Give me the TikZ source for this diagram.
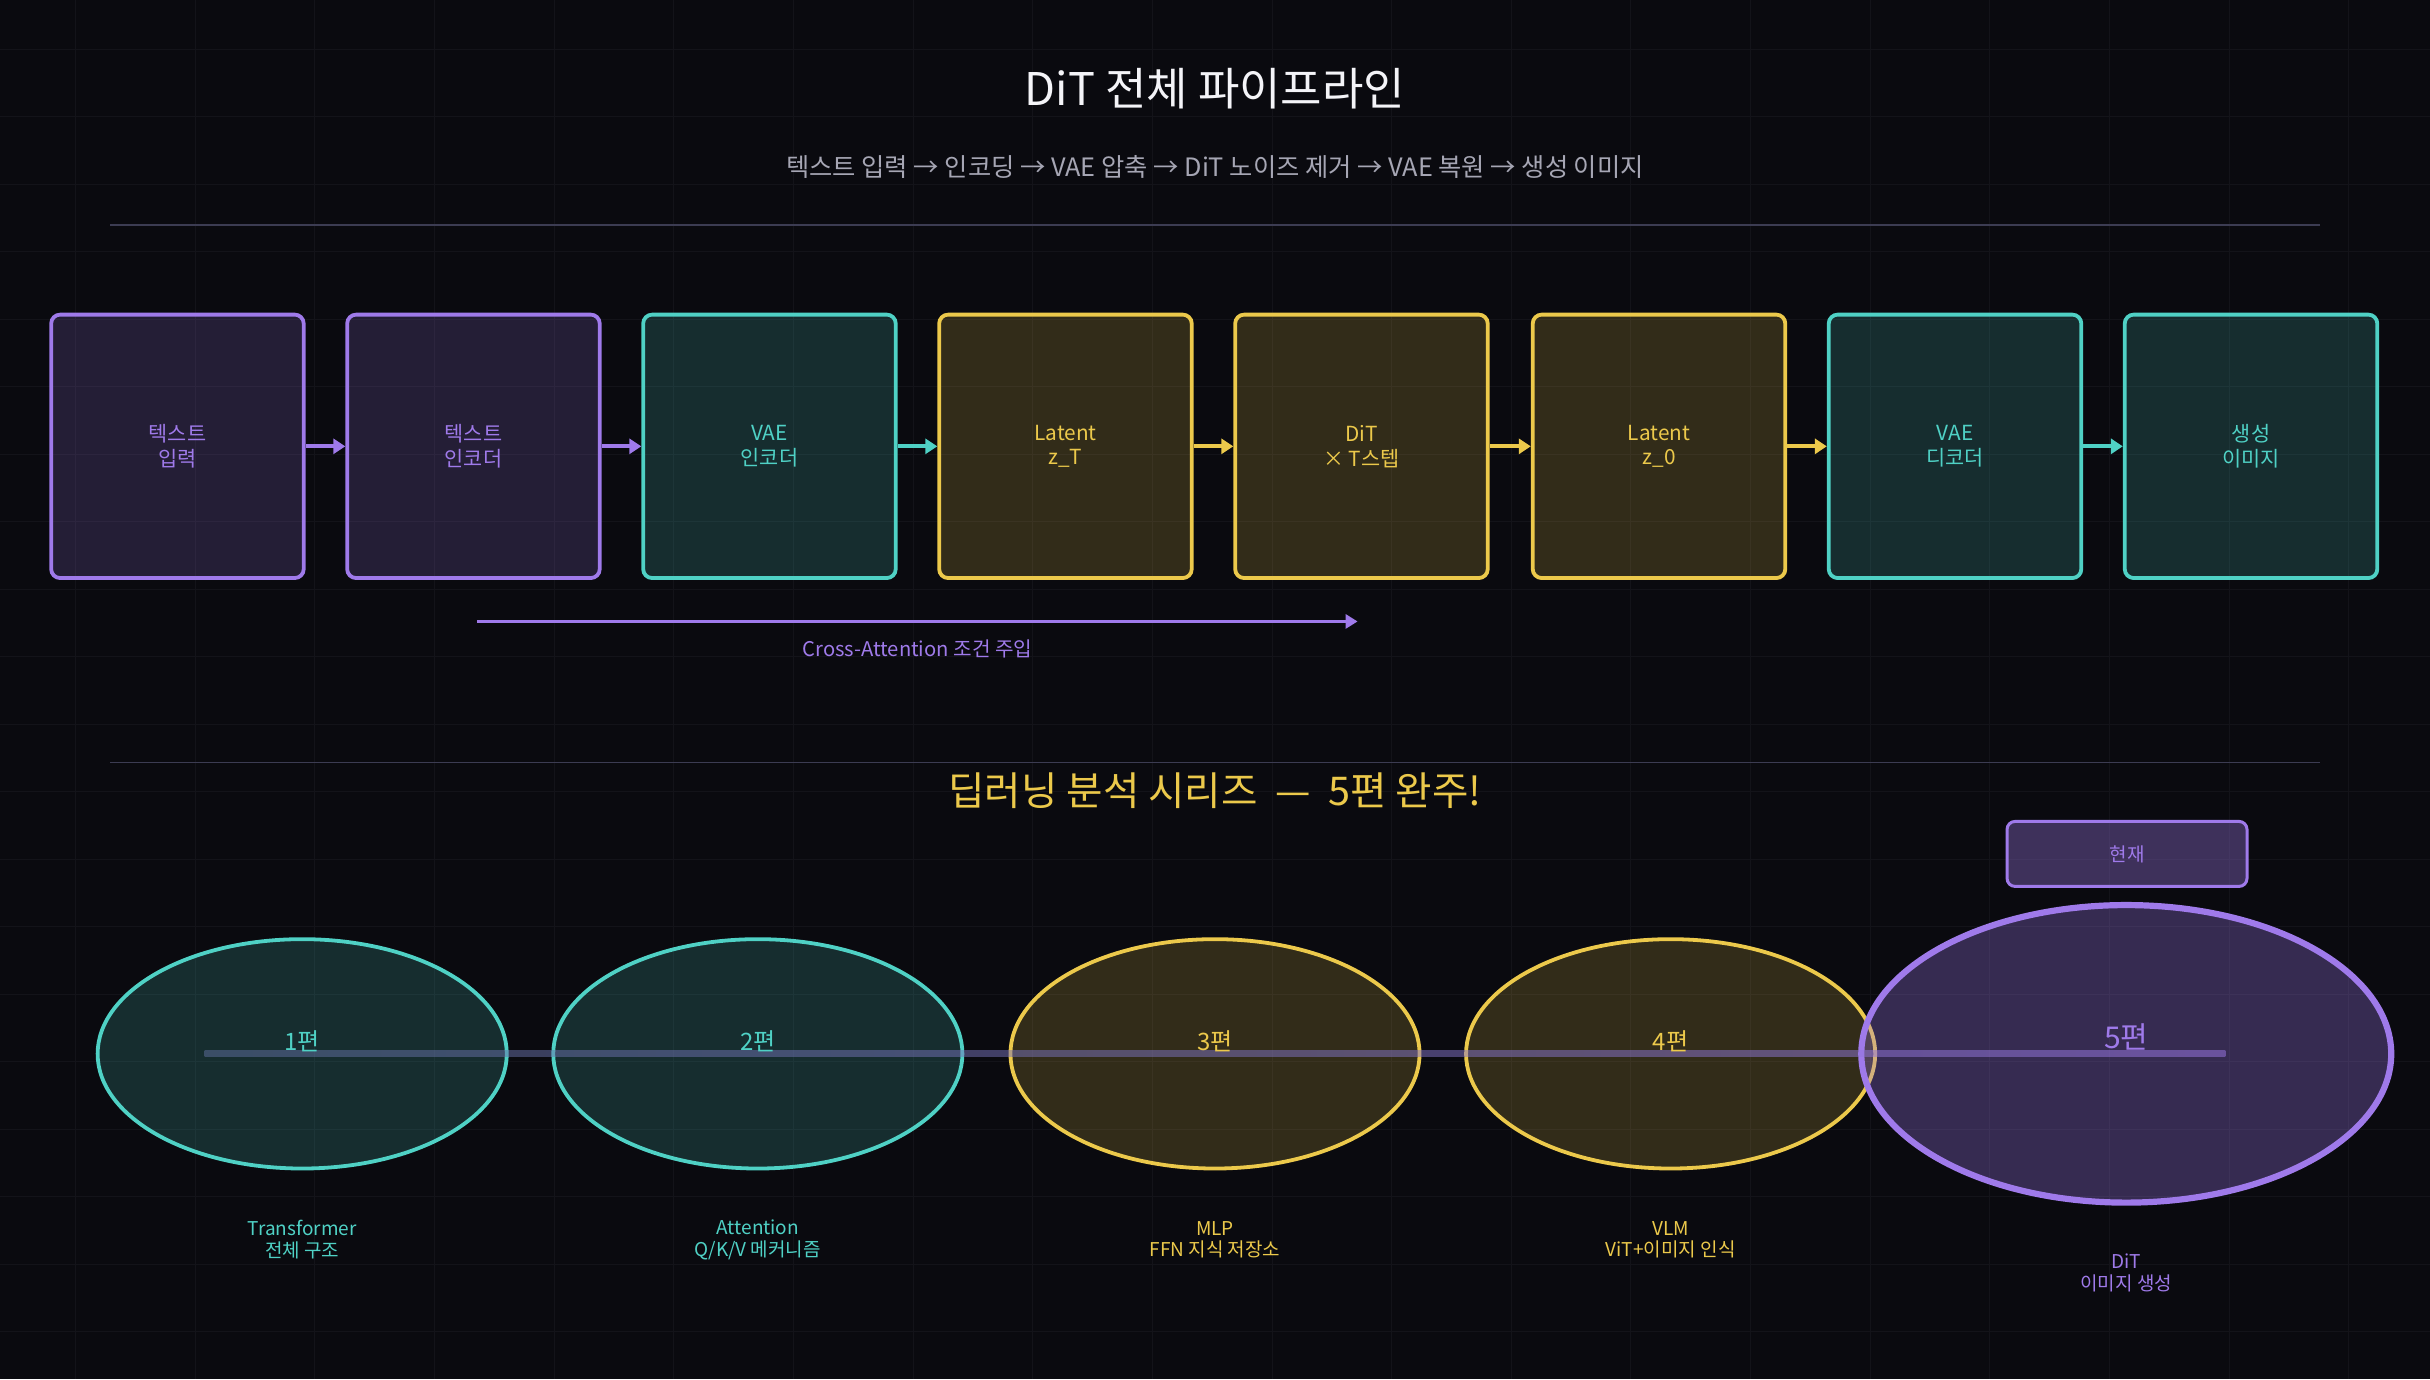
\documentclass[tikz,border=0pt]{standalone}
\usepackage{fontspec}
\setmainfont{Noto Sans CJK KR}
\usetikzlibrary{arrows.meta,shapes.geometric,calc}
\definecolor{bg}{HTML}{0A0A0F}
\definecolor{gridc}{HTML}{131319}
\definecolor{purp}{HTML}{9F7AEA}
\definecolor{tealc}{HTML}{4FD1C5}
\definecolor{yell}{HTML}{ECC94B}
\definecolor{titlec}{HTML}{F4F4F8}
\definecolor{subc}{HTML}{A6A6B4}
\definecolor{sepc}{HTML}{3C3C52}
\definecolor{lineL}{HTML}{6070A0}
\tikzset{
  stepbox/.style={draw, rounded corners=4.5pt, line width=1.9pt,
    minimum width=126.3pt, minimum height=131.75pt, align=center,
    font=\fontsize{10.4}{12.4}\selectfont, inner sep=0pt,
    fill opacity=0.18, text opacity=1},
  pbox/.style={stepbox, draw=purp, fill=purp, text=purp},
  tbox/.style={stepbox, draw=tealc, fill=tealc, text=tealc},
  ybox/.style={stepbox, draw=yell, fill=yell, text=yell},
  arr/.style={line width=2pt, -{Triangle[length=6pt,width=7.5pt]}},
  ell/.style={ellipse, draw, line width=1.9pt, fill opacity=0.18,
    inner sep=0pt, minimum width=204.6pt, minimum height=114.7pt},
  epnum/.style={font=\fontsize{12}{14}\selectfont},
  eplab/.style={align=center, font=\fontsize{9.5}{10.85}\selectfont},
}
\begin{document}
\begin{tikzpicture}[x=0.775pt,y=-0.775pt]
\useasboundingbox (0,0) rectangle (1568,890);
\fill[bg] (0,0) rectangle (1568,890);
\foreach \i in {0,...,19}
  \draw[gridc, line width=0.5pt] ({48.8+77.2*\i},0) -- ({48.8+77.2*\i},890);
\foreach \j in {0,...,19}
  \draw[gridc, line width=0.5pt] (0,{31.8+43.56*\j}) -- (1568,{31.8+43.56*\j});

% header
\node[text=titlec, font=\fontsize{22.5}{27}\selectfont] (title) at (784,57) {DiT 전체 파이프라인};
\node[text=subc, font=\fontsize{12.65}{15}\selectfont] (sub) at (784,108)
  {텍스트 입력 → 인코딩 → VAE 압축 → DiT 노이즈 제거 → VAE 복원 → 생성 이미지};
\draw[sepc, line width=0.8pt] (71,145) -- (1497,145);

% pipeline boxes
\node[pbox] (b1) at (114.5,288) {텍스트\\입력};
\node[pbox] (b2) at (305.5,288) {텍스트\\인코더};
\node[tbox] (b3) at (496.5,288) {VAE\\인코더};
\node[ybox] (b4) at (687.5,288) {Latent\\z\_T};
\node[ybox] (b5) at (878.5,288) {DiT\\× T스텝};
\node[ybox] (b6) at (1070.5,288) {Latent\\z\_0};
\node[tbox] (b7) at (1261.5,288) {VAE\\디코더};
\node[tbox] (b8) at (1452.5,288) {생성\\이미지};

\draw[arr, purp] (b1) -- (b2);
\draw[arr, purp] (b2) -- (b3);
\draw[arr, tealc] (b3) -- (b4);
\draw[arr, yell] (b4) -- (b5);
\draw[arr, yell] (b5) -- (b6);
\draw[arr, yell] (b6) -- (b7);
\draw[arr, tealc] (b7) -- (b8);

% cross attention
\coordinate (ca1) at (308,401);
\coordinate (ca2) at (876,401);
\draw[purp, line width=1.8pt, -{Triangle[length=6pt,width=7pt]}] (ca1) -- (ca2);
\node[text=purp, font=\fontsize{10.1}{12}\selectfont] (calab) at (592,419) {Cross-Attention 조건 주입};

% series section
\draw[sepc, line width=0.8pt] (71,492) -- (1497,492);
\node[text=yell, font=\fontsize{19.8}{24}\selectfont] (series) at (784,510) {딥러닝 분석 시리즈 \ — \ 5편 완주!};

\node[draw=purp, fill=purp, fill opacity=0.35, text opacity=1, text=purp,
  line width=1.5pt, rounded corners=4pt, minimum width=120pt, minimum height=32.5pt,
  font=\fontsize{9.5}{11}\selectfont] (now) at (1372.5,551) {현재};

\node[ell, draw=tealc, fill=tealc] (e1) at (195,680) {};
\node[ell, draw=tealc, fill=tealc] (e2) at (489,680) {};
\node[ell, draw=yell, fill=yell] (e3) at (784,680) {};
\node[ell, draw=yell, fill=yell] (e4) at (1078,680) {};
\node[ell, draw=purp, fill=purp, fill opacity=0.3, line width=3.1pt,
  minimum width=265pt, minimum height=148.8pt] (e5) at (1372,680) {};

\coordinate (t1) at (132,680);
\coordinate (t2) at (1436,680);
\shade[left color=lineL, right color=purp, opacity=0.5] ($(t1)+(0,-2)$) rectangle ($(t2)+(0,2)$);

\node[epnum, text=tealc] (n1) at (195,672) {1편};
\node[epnum, text=tealc] (n2) at (489,672) {2편};
\node[epnum, text=yell] (n3) at (784,672) {3편};
\node[epnum, text=yell] (n4) at (1078,672) {4편};
\node[font=\fontsize{15}{18}\selectfont, text=purp] (n5) at (1372,669) {5편};

\node[eplab, text=tealc] (d1) at (195,800) {Transformer\\전체 구조};
\node[eplab, text=tealc] (d2) at (489,800) {Attention\\Q/K/V 메커니즘};
\node[eplab, text=yell] (d3) at (784,800) {MLP\\FFN 지식 저장소};
\node[eplab, text=yell] (d4) at (1078,800) {VLM\\ViT+이미지 인식};
\node[eplab, text=purp] (d5) at (1372,821.5) {DiT\\이미지 생성};
\end{tikzpicture}
\end{document}
